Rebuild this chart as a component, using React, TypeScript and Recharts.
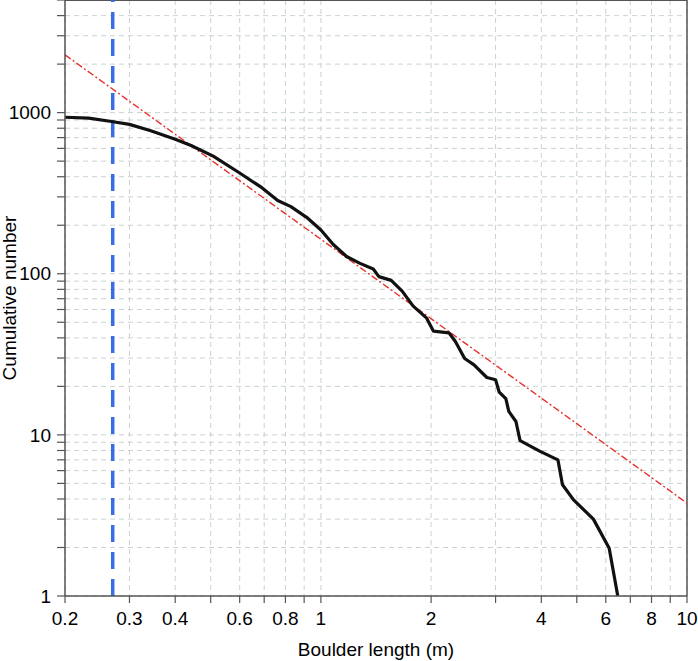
import React from 'react';
import { LineChart, Line, XAxis, YAxis, CartesianGrid, ReferenceLine } from 'recharts';

// Cumulative boulder counts
const lengthM = [0.2, 0.232, 0.268, 0.3, 0.343, 0.4, 0.442, 0.508, 0.6, 0.69, 0.762, 0.828, 0.914, 1.0, 1.081, 1.175, 1.279, 1.39, 1.44, 1.556, 1.667, 1.787, 1.945, 2.03, 2.237, 2.33, 2.47, 2.62, 2.84, 3.0, 3.07, 3.2, 3.26, 3.41, 3.5, 3.97, 4.44, 4.57, 4.9, 5.55, 6.13, 6.47];
const cumulative = [936, 925, 881, 845, 771, 684, 625, 537, 422, 342, 285, 261, 224, 187, 152, 128, 116, 107, 96, 91, 78, 63, 53, 44, 43, 38, 29.8, 27.2, 22.7, 22, 18.4, 16.8, 14, 12.1, 9.2, 7.9, 7.0, 4.9, 3.95, 3.0, 1.98, 1];

// Power-law fit (end points)
const fitX = [0.2, 10];
const fitY = [2285, 3.77];

// Completeness limit
const cutoffLength = 0.27;

const xTicks = [0.2, 0.3, 0.4, 0.5, 0.6, 0.7, 0.8, 0.9, 1, 2, 3, 4, 5, 6, 7, 8, 9, 10];
const xLabels = [0.2, 0.3, 0.4, 0.6, 0.8, 1, 2, 4, 6, 8, 10];
const yTicks = [1, 2, 3, 4, 5, 6, 7, 8, 9, 10, 20, 30, 40, 50, 60, 70, 80, 90, 100, 200, 300, 400, 500, 600, 700, 800, 900, 1000, 2000, 3000, 4000, 5000];
const yLabels = [1, 10, 100, 1000];

const curveData = lengthM.map((x, i) => ({ x, y: cumulative[i] }));
const fitData = fitX.map((x, i) => ({ x, y: fitY[i] }));

const FONT = '"Liberation Sans", Arial, Helvetica, sans-serif';
const AXIS = '#555';

export default function App() {
  return (
    <div style={{ position: 'absolute', left: 0, top: 0, width: 698, height: 661, background: '#fff' }}>
      <LineChart width={698} height={661} margin={{ top: 0, right: 11, bottom: 0, left: 0 }} style={{ fontFamily: FONT }}>
        <CartesianGrid stroke="#c9d2d2" strokeDasharray="5 4" />
        <XAxis
          dataKey="x"
          type="number"
          scale="log"
          domain={[0.2, 10]}
          allowDataOverflow
          ticks={xTicks}
          interval={0}
          height={65}
          tickSize={7}
          tickMargin={9}
          axisLine={{ stroke: AXIS, strokeWidth: 1.5 }}
          tickLine={{ stroke: AXIS, strokeWidth: 1.2 }}
          tick={{ fill: '#000', fontSize: 19, fontFamily: FONT }}
          tickFormatter={(v: number) => (xLabels.includes(v) ? String(v) : '')}
          label={{ value: 'Boulder length (m)', position: 'insideBottom', offset: 5, fill: '#000', fontSize: 19, fontFamily: FONT }}
        />
        <YAxis
          dataKey="y"
          type="number"
          scale="log"
          domain={[1, 5000]}
          allowDataOverflow
          ticks={yTicks}
          interval={0}
          width={65}
          tickSize={8}
          tickMargin={6}
          axisLine={{ stroke: AXIS, strokeWidth: 1.5 }}
          tickLine={{ stroke: AXIS, strokeWidth: 1.2 }}
          tick={{ fill: '#000', fontSize: 19, fontFamily: FONT }}
          tickFormatter={(v: number) => (yLabels.includes(v) ? String(v) : '')}
          label={{ value: 'Cumulative number', angle: -90, position: 'insideLeft', offset: 9, style: { textAnchor: 'middle' }, fill: '#000', fontSize: 19, fontFamily: FONT }}
        />
        <ReferenceLine y={5000} stroke={AXIS} strokeWidth={2} />
        <ReferenceLine x={10} stroke={AXIS} strokeWidth={1.5} />
        <ReferenceLine x={cutoffLength} stroke="#3a6de3" strokeWidth={3.5} strokeDasharray="17 10" />
        <Line data={fitData} dataKey="y" type="linear" stroke="#e8302b" strokeWidth={1.4} strokeDasharray="7 2.5 2 2.5" dot={false} isAnimationActive={false} />
        <Line data={curveData} dataKey="y" type="linear" stroke="#111" strokeWidth={3.2} strokeLinejoin="round" dot={false} isAnimationActive={false} />
      </LineChart>
    </div>
  );
}
